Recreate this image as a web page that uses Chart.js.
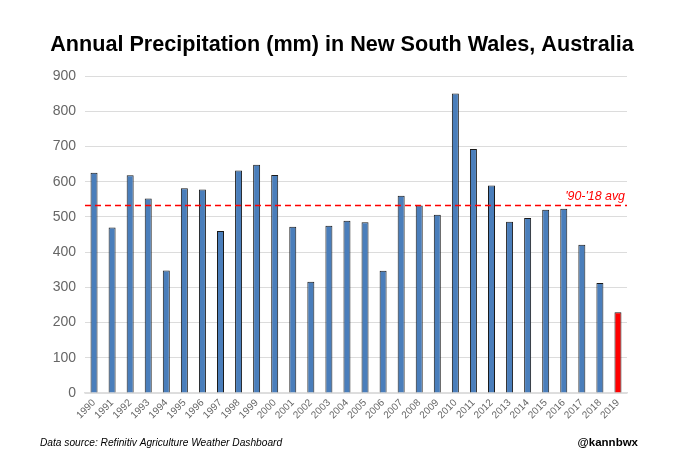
<!DOCTYPE html>
<html><head><meta charset="utf-8">
<style>html,body{margin:0;padding:0;background:#fff}#w{position:relative;width:680px;height:470px}canvas{display:block}</style>
<script src="https://cdn.jsdelivr.net/npm/chart.js@4"></script></head>
<body><div id="w"><canvas id="c" width="680" height="470"></canvas></div>
<script>
const years = ['1990','1991','1992','1993','1994','1995','1996','1997','1998','1999','2000','2001','2002','2003','2004','2005','2006','2007','2008','2009','2010','2011','2012','2013','2014','2015','2016','2017','2018','2019'];
const precipitation = [625,470,618,552,348,581,578,460,632,648,619,472,316,475,489,485,347,560,532,506,850,693,589,486,497,520,523,421,312,229];
const averageValue = 532;
const averageLabel = "'90-'18 avg";
const titleText = 'Annual Precipitation (mm) in New South Wales, Australia';
const sourceText = 'Data source: Refinitiv Agriculture Weather Dashboard';
const handleText = '@kannbwx';
const FONT = '"Liberation Sans", Arial, sans-serif';

const annotations = {
  id: 'annotations',
  afterDraw(chart) {
    const {ctx, scales} = chart;
    ctx.save();
    ctx.textBaseline = 'alphabetic';
    ctx.fillStyle = '#000';
    ctx.font = 'bold 21.6px ' + FONT;
    ctx.textAlign = 'center';
    ctx.fillText(titleText, 342, 51);
    ctx.fillStyle = '#ff0000';
    ctx.font = 'italic 12.4px ' + FONT;
    ctx.textAlign = 'right';
    ctx.fillText(averageLabel, scales.x.right - 2, scales.y.getPixelForValue(averageValue) - 6);
    ctx.fillStyle = '#000';
    ctx.font = 'italic 10.2px ' + FONT;
    ctx.textAlign = 'left';
    ctx.fillText(sourceText, 40, 446);
    ctx.font = 'bold 11.5px ' + FONT;
    ctx.textAlign = 'right';
    ctx.fillText(handleText, 638, 446);
    ctx.restore();
  }
};

new Chart(document.getElementById('c'), {
  data: {
    labels: years,
    datasets: [
      { type: 'line', xAxisID: 'x2', data: [{x:0,y:averageValue},{x:1,y:averageValue}],
        borderColor: '#ff0000', borderWidth: 1.5, borderDash: [6,4], pointRadius: 0, order: 0 },
      { type: 'bar', data: precipitation, grouped: false,
        backgroundColor: years.map(y => y === '2019' ? '#ff0000' : '#4a7ebb'),
        borderColor: '#1a1a1a', borderWidth: 1, maxBarThickness: 7, order: 1 }
    ]
  },
  plugins: [annotations],
  options: {
    responsive: false, animation: false, devicePixelRatio: 1,
    layout: { padding: { left: 0, right: 53, top: 76, bottom: 0 } },
    plugins: {
      legend: { display: false }, tooltip: { enabled: false }, title: { display: false }
    },
    scales: {
      x: { type: 'category', offset: true,
        grid: { display: false, drawTicks: false },
        border: { color: '#dedede', width: 1.5 },
        ticks: { color: '#666666', font: { family: FONT, size: 10 }, minRotation: 45, maxRotation: 45, autoSkip: false, padding: 4 },
        afterFit(s) { s.height = 77; } },
      x2: { type: 'linear', display: false, min: 0, max: 1 },
      y: { min: 0, max: 900,
        grid: { color: '#dcdcdc', lineWidth: 1, drawTicks: false },
        border: { display: false },
        ticks: { stepSize: 100, color: '#666666', font: { family: FONT, size: 14 }, padding: 9 },
        afterFit(s) { s.width = 85; } }
    }
  }
});
</script></body></html>
